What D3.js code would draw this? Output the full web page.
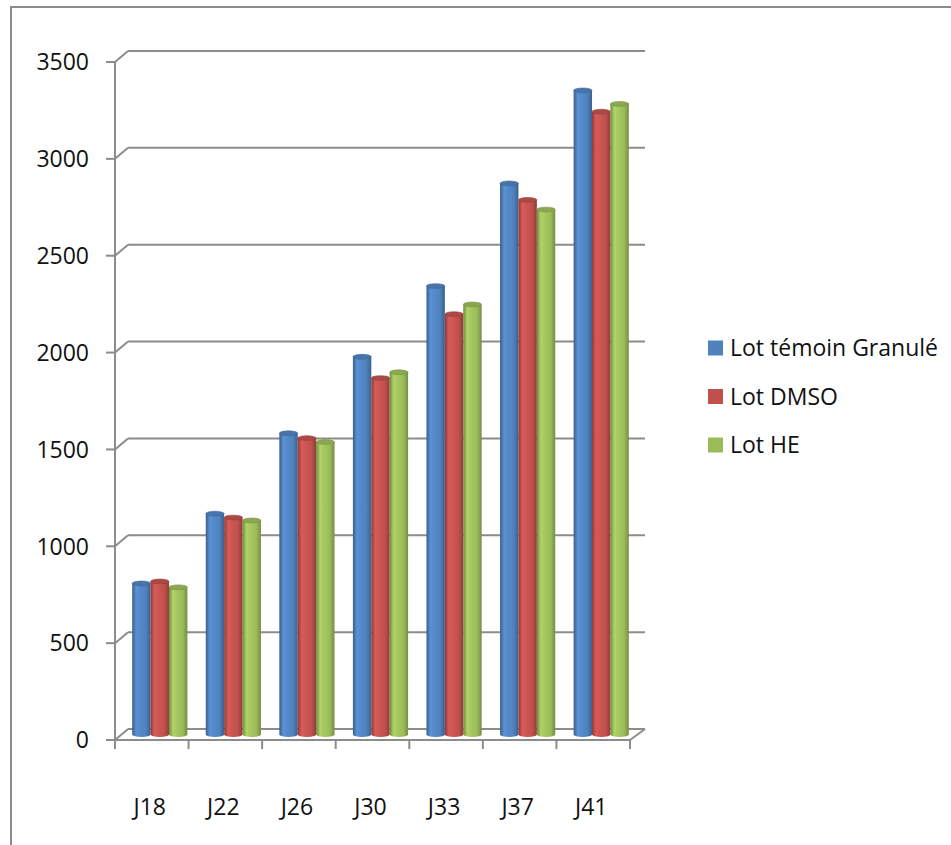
<!DOCTYPE html>
<html>
<head>
<meta charset="utf-8">
<script src="https://cdn.jsdelivr.net/npm/d3@7"></script>
<style>
  body { margin: 0; background: #fff; }
  svg { display: block; font-family: "Open Sans", sans-serif; }
</style>
</head>
<body>
<div id="chart"></div>
<script>
// données
const categories = ["J18", "J22", "J26", "J30", "J33", "J37", "J41"];
const seriesNames = ["Lot témoin Granulé", "Lot DMSO", "Lot HE"];
const temoin = [780, 1140, 1555, 1950, 2315, 2845, 3325];
const dmso = [790, 1120, 1530, 1840, 2170, 2760, 3215];
const he = [760, 1105, 1510, 1870, 2220, 2710, 3255];
const yTicks = [0, 500, 1000, 1500, 2000, 2500, 3000, 3500];
const colors = ["#4f81bd", "#c0504d", "#9bbb59"];

const width = 951, height = 845;
const front = { left: 115, right: 630, top: 62, bottom: 740 };
const depth = { dx: 13, dy: -11 };   // décalage du mur du fond
const grid = "#8c8c8c";

const series = [temoin, dmso, he];

const svg = d3.select("#chart").append("svg")
  .attr("width", width)
  .attr("height", height);

// cadre extérieur
svg.append("rect")
  .attr("x", 11).attr("y", 7)
  .attr("width", 960).attr("height", 860)
  .attr("fill", "none")
  .attr("stroke", grid)
  .attr("stroke-width", 2);

// échelles
const x = d3.scaleBand()
  .domain(categories)
  .range([front.left, front.right])
  .paddingInner(0)
  .paddingOuter(0);

const xInner = d3.scaleBand()
  .domain(d3.range(seriesNames.length))
  .range([0, x.bandwidth()])
  .paddingOuter(0.5)
  .paddingInner(0);

const y = d3.scaleLinear()
  .domain([0, 3500])
  .range([front.bottom, front.top]);

// dégradés pour les cylindres
const defs = svg.append("defs");
colors.forEach((c, i) => {
  const base = d3.color(c);
  const g = defs.append("linearGradient")
    .attr("id", "cyl" + i)
    .attr("x1", "0%").attr("x2", "100%")
    .attr("y1", "0%").attr("y2", "0%");
  g.append("stop").attr("offset", "0%").attr("stop-color", base.darker(0.9));
  g.append("stop").attr("offset", "22%").attr("stop-color", base.brighter(0.35));
  g.append("stop").attr("offset", "40%").attr("stop-color", base.brighter(0.2));
  g.append("stop").attr("offset", "75%").attr("stop-color", base);
  g.append("stop").attr("offset", "100%").attr("stop-color", base.darker(0.8));
});

// mur du fond : lignes de grille
const back = svg.append("g");
back.selectAll("line.grid")
  .data(yTicks)
  .join("line")
  .attr("x1", front.left + depth.dx)
  .attr("x2", front.right + depth.dx + 2)
  .attr("y1", d => y(d) + depth.dy)
  .attr("y2", d => y(d) + depth.dy)
  .attr("stroke", grid)
  .attr("stroke-width", 2);

// diagonales entre l'axe avant et le mur du fond
back.selectAll("line.diag")
  .data(yTicks)
  .join("line")
  .attr("x1", front.left)
  .attr("x2", front.left + depth.dx)
  .attr("y1", d => y(d))
  .attr("y2", d => y(d) + depth.dy)
  .attr("stroke", grid)
  .attr("stroke-width", 2);

// diagonale à droite du plancher
back.append("line")
  .attr("x1", front.right).attr("y1", y(0))
  .attr("x2", front.right + depth.dx + 2).attr("y2", y(0) + depth.dy)
  .attr("stroke", grid)
  .attr("stroke-width", 2);

// cylindres
const midX = depth.dx / 2 + 1.5, midY = depth.dy / 2;
const ry = 2.4;
const bars = svg.append("g");

series.forEach((vals, si) => {
  const g = bars.append("g");
  const w = xInner.bandwidth();
  const items = categories.map((cat, ci) => ({ cat, v: vals[ci] }));

  const cx = d => x(d.cat) + xInner(si) + midX + w / 2;

  g.selectAll("ellipse.bottom")
    .data(items)
    .join("ellipse")
    .attr("cx", cx)
    .attr("cy", y(0) + midY)
    .attr("rx", w / 2)
    .attr("ry", ry)
    .attr("fill", `url(#cyl${si})`);

  g.selectAll("rect")
    .data(items)
    .join("rect")
    .attr("x", d => cx(d) - w / 2)
    .attr("y", d => y(d.v) + midY)
    .attr("width", w)
    .attr("height", d => y(0) - y(d.v))
    .attr("fill", `url(#cyl${si})`);

  g.selectAll("ellipse.top")
    .data(items)
    .join("ellipse")
    .attr("cx", cx)
    .attr("cy", d => y(d.v) + midY)
    .attr("rx", w / 2)
    .attr("ry", ry)
    .attr("fill", d3.color(colors[si]).darker(0.3))
    .attr("stroke", d3.color(colors[si]).darker(0.7))
    .attr("stroke-width", 0.6);
});

// axe vertical avant
const axis = svg.append("g");
axis.append("line")
  .attr("x1", front.left).attr("x2", front.left)
  .attr("y1", y(3500)).attr("y2", y(0))
  .attr("stroke", grid)
  .attr("stroke-width", 2);

axis.selectAll("line.ytick")
  .data(yTicks)
  .join("line")
  .attr("x1", front.left - 9).attr("x2", front.left)
  .attr("y1", d => y(d)).attr("y2", d => y(d))
  .attr("stroke", grid)
  .attr("stroke-width", 2);

axis.selectAll("text.ylab")
  .data(yTicks)
  .join("text")
  .attr("x", 89)
  .attr("y", d => y(d))
  .attr("dy", "0.36em")
  .attr("text-anchor", "end")
  .attr("font-size", 23)
  .attr("fill", "#111")
  .text(d => d);

// axe horizontal avant
axis.append("line")
  .attr("x1", front.left).attr("x2", front.right)
  .attr("y1", y(0)).attr("y2", y(0))
  .attr("stroke", grid)
  .attr("stroke-width", 2);

axis.selectAll("line.xtick")
  .data(categories.concat(["end"]))
  .join("line")
  .attr("x1", (d, i) => front.left + i * x.bandwidth())
  .attr("x2", (d, i) => front.left + i * x.bandwidth())
  .attr("y1", y(0)).attr("y2", y(0) + 9)
  .attr("stroke", grid)
  .attr("stroke-width", 2);

axis.selectAll("text.xlab")
  .data(categories)
  .join("text")
  .attr("x", d => x(d) + x.bandwidth() / 2 - 2)
  .attr("y", 807)
  .attr("dy", "0.36em")
  .attr("text-anchor", "middle")
  .attr("font-size", 23)
  .attr("fill", "#111")
  .text(d => d);

// légende
const legend = svg.append("g");
seriesNames.forEach((name, i) => {
  const ly = 348 + i * 48.5;
  legend.append("rect")
    .attr("x", 708).attr("y", ly - 7.5)
    .attr("width", 15).attr("height", 15)
    .attr("fill", colors[i]);
  legend.append("text")
    .attr("x", 730).attr("y", ly)
    .attr("dy", "0.36em")
    .attr("font-size", 23)
    .attr("fill", "#111")
    .text(name);
});
</script>
</body>
</html>
